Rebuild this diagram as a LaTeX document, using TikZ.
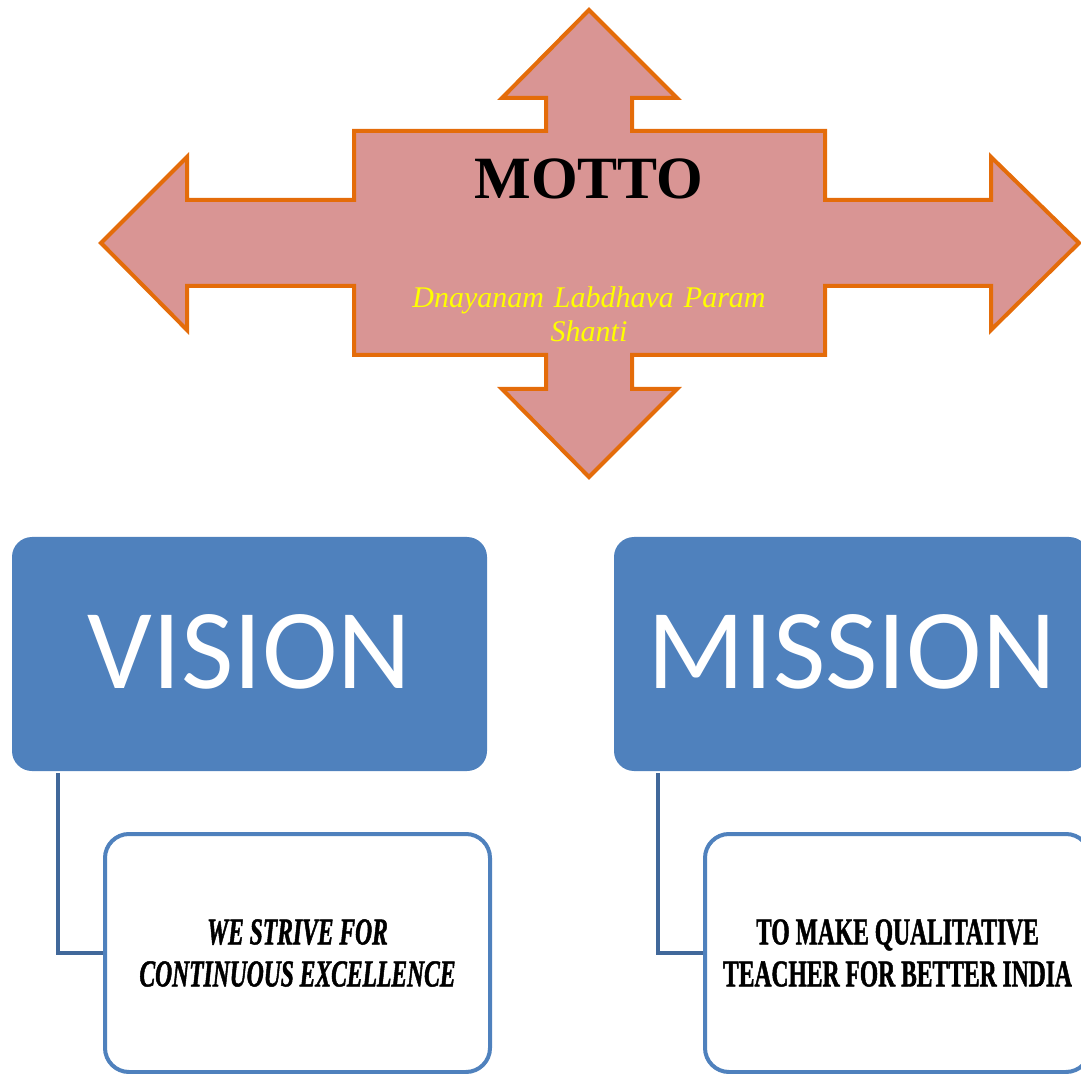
\documentclass[tikz,border=0pt]{standalone}
\usepackage{fontspec}
\setmainfont{Liberation Serif}
\newfontfamily\calib{Carlito}
\newfontfamily\condser[FakeStretch=0.62,FakeBold=1.2]{Liberation Serif}
\definecolor{mottoline}{HTML}{E46C0A}
\definecolor{mottofill}{HTML}{D99594}
\definecolor{headblue}{HTML}{4F81BD}
\definecolor{linkblue}{HTML}{41689A}
\definecolor{mottoyellow}{HTML}{FFFF00}
\tikzset{
  headbox/.style={fill=headblue, draw=none, rounded corners=10pt,
    minimum width=237.5pt, minimum height=117pt, inner sep=0pt,
    text=white, font=\calib\fontsize{57}{60}\selectfont},
  childbox/.style={fill=white, draw=headblue, line width=2pt, rounded corners=12pt,
    minimum width=192.5pt, minimum height=119pt, inner sep=0pt,
    align=center, font=\condser\bfseries\fontsize{19}{21}\selectfont},
  link/.style={draw=linkblue, line width=2pt},
  mottoshape/.style={fill=mottofill, draw=mottoline, line width=2pt, line join=miter}
}
\begin{document}
\begin{tikzpicture}[x=0.5pt,y=-0.5pt]
\useasboundingbox (0,0) rectangle (1081,1074);
\clip (0,0) rectangle (1081,1074);
% motto four-way arrow
\draw[mottoshape] (589,10) -- (677,98) -- (632,98) -- (632,131) -- (825,131)
  -- (825,200) -- (991,200) -- (991,157) -- (1079,243) -- (991,330) -- (991,286)
  -- (825,286) -- (825,355) -- (632,355) -- (632,389) -- (677,389) -- (589,477)
  -- (502,389) -- (546,389) -- (546,355) -- (354,355) -- (354,286) -- (187,286)
  -- (187,330) -- (101,243) -- (187,157) -- (187,200) -- (354,200) -- (354,131)
  -- (546,131) -- (546,98) -- (502,98) -- cycle;
\node[anchor=base, font=\bfseries\fontsize{30}{34}\selectfont, inner sep=0pt] (motto) at (589,199) {MOTTO};
\node[anchor=base, text width=200pt, align=center, inner sep=0pt, text=mottoyellow,
  font=\itshape\fontsize{15}{17}\selectfont] (tagline) at (589,308)
  {Dnayanam Labdhava Param\\Shanti};
% vision / mission
\node[headbox] (vision) at (249.5,654) {\raisebox{2pt}{VISION}};
\node[headbox] (mission) at (851.5,654) {\raisebox{2pt}{MISSION}};
\node[childbox] (vchild) at (297.5,953) {\itshape WE STRIVE FOR\\\itshape CONTINUOUS EXCELLENCE};
\node[childbox] (mchild) at (897.5,953) {TO MAKE QUALITATIVE\\TEACHER FOR BETTER INDIA};
\draw[link] ([xshift=23pt,yshift=-1pt]vision.south west) |- (vchild.west);
\draw[link] ([xshift=22pt,yshift=-1pt]mission.south west) |- (mchild.west);
\end{tikzpicture}
\end{document}
